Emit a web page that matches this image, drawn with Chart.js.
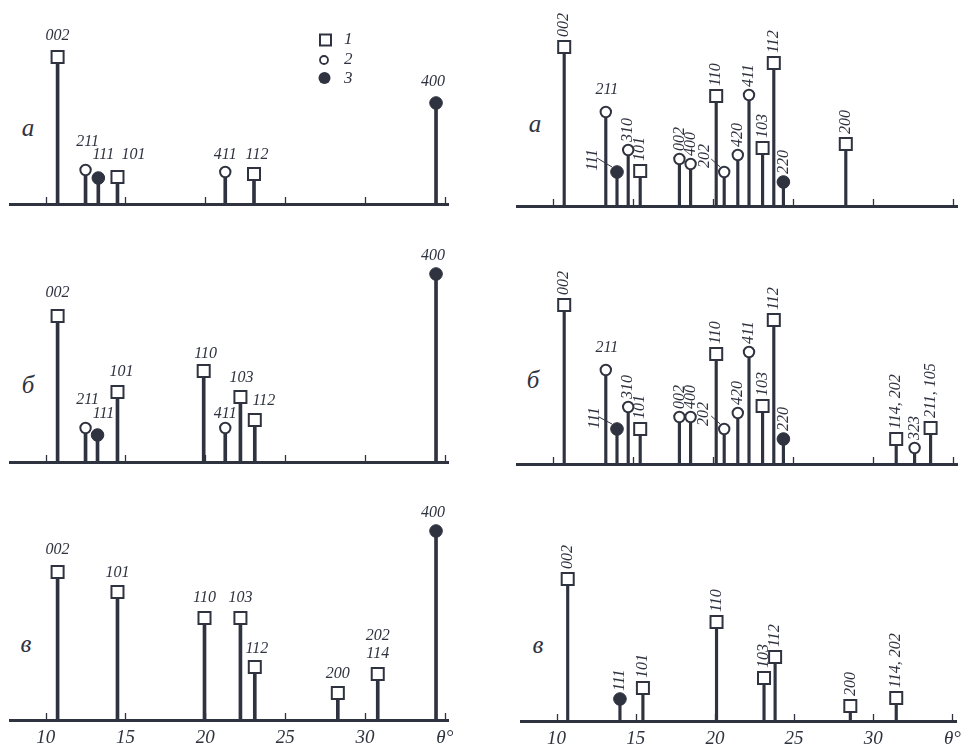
<!DOCTYPE html>
<html>
<head>
<meta charset="utf-8">
<script src="https://cdn.jsdelivr.net/npm/chart.js@4.4.1/dist/chart.umd.min.js"></script>
<style>
html, body { margin: 0; padding: 0; background: #fff; overflow: hidden }
#wrap { position: relative; width: 968px; height: 746px }
#wrap canvas { position: absolute }
.tag { position: absolute; font: italic 25px "Liberation Serif", serif; color: #2f3340; transform: translate(-50%, -50%) }
</style>
</head>
<body>
<div id="wrap">
  <div class="tag" style="left:28px;top:128px">а</div>
  <div class="tag" style="left:28px;top:385px">б</div>
  <div class="tag" style="left:26px;top:644px">в</div>
  <div class="tag" style="left:535px;top:124px">а</div>
  <div class="tag" style="left:533px;top:380px">б</div>
  <div class="tag" style="left:538px;top:645px">в</div>
</div>
<script>
const ink = '#2f3340'

// phase: 1 = square, 2 = open circle, 3 = filled circle
const leftATheta = [10.75, 12.5, 13.3, 14.5, 21.25, 23.05, 34.45]
const leftAInt   = [147, 34, 26, 27, 32, 30, 101]
const leftAPhase = [1, 2, 3, 1, 2, 1, 3]
const leftAHkl   = ['002', '211', '111', '101', '411', '112', '400']

const leftBTheta = [10.75, 12.5, 13.25, 14.5, 19.9, 21.25, 22.2, 23.1, 34.45]
const leftBInt   = [146, 34, 27, 70, 91, 34, 65, 42, 188]
const leftBPhase = [1, 2, 3, 1, 1, 2, 1, 1, 3]
const leftBHkl   = ['002', '211', '111', '101', '110', '411', '103', '112', '400']

const leftCTheta = [10.75, 14.5, 19.95, 22.2, 23.1, 28.3, 30.8, 34.45]
const leftCInt   = [148, 128, 102, 102, 53, 27, 46, 189]
const leftCPhase = [1, 1, 1, 1, 1, 1, 1, 3]
const leftCHkl   = ['002', '101', '110', '103', '112', '200', '202\n114', '400']

const rightATheta = [10.7, 13.3, 14.0, 14.7, 15.45, 17.9, 18.6, 20.2, 20.7, 21.55, 22.25, 23.1, 23.8, 24.4, 28.3]
const rightAInt   = [159, 94, 34, 56, 35, 47, 42, 110, 34, 51, 111, 58, 143, 24, 62]
const rightAPhase = [1, 2, 3, 2, 1, 2, 2, 1, 2, 2, 2, 1, 1, 3, 1]
const rightAHkl   = ['002', '211', '111', '310', '101', '002', '400', '110', '202', '420', '411', '103', '112', '220', '200']

const rightBTheta = [10.7, 13.3, 14.0, 14.7, 15.45, 17.9, 18.6, 20.2, 20.7, 21.55, 22.25, 23.1, 23.8, 24.4, 31.45, 32.6, 33.6]
const rightBInt   = [159, 94, 35, 57, 35, 47, 47, 110, 35, 51, 112, 58, 144, 25, 25, 16, 36]
const rightBPhase = [1, 2, 3, 2, 1, 2, 2, 1, 2, 2, 2, 1, 1, 3, 1, 2, 1]
const rightBHkl   = ['002', '211', '111', '310', '101', '002', '400', '110', '202', '420', '411', '103', '112', '220', '114, 202', '323', '211, 105']

const rightCTheta = [10.7, 14.0, 15.45, 20.1, 23.1, 23.8, 28.55, 31.45]
const rightCInt   = [142, 22, 33, 99, 43, 64, 15, 23]
const rightCPhase = [1, 3, 1, 1, 1, 1, 1, 1]
const rightCHkl   = ['002', '111', '101', '110', '103', '112', '200', '114, 202']

const tickValues = [10, 15, 20, 25, 30, 35]

// label nudges (layout only)
const nudgeLA = { 1: {dx: 2, dy: -28}, 2: {dx: 5, dy: -23}, 3: {dx: 16, dy: -22}, 4: {dy: -17}, 5: {dx: 3, dy: -19}, 6: {dx: -3} }
const nudgeLB = { 0: {dy: -23}, 1: {dx: 2, dy: -28}, 2: {dx: 6}, 3: {dx: 4, dy: -20}, 4: {dx: 2, dy: -17}, 5: {dy: -14}, 6: {dx: 1, dy: -19}, 7: {dx: 9, dy: -19}, 8: {dx: -3, dy: -18} }
const nudgeLC = { 0: {dy: -22}, 1: {dy: -19}, 2: {dy: -20}, 3: {dy: -20}, 4: {dx: 2, dy: -18}, 5: {dy: -19}, 6: {dy: -20}, 7: {dx: -3, dy: -18} }
const nudgeRA = { 1: {flat: true, dx: 1, dy: -22}, 2: {dx: -24, dy: -12, leader: [-20, -14, -5, -5]}, 8: {dx: -19, dy: -16, leader: [-13, -13, -4, -5]} }
const nudgeRB = { 1: {flat: true, dx: 1, dy: -22}, 2: {dx: -22, dy: -11, leader: [-18, -12, -5, -5]}, 8: {dx: -20, dy: -15, leader: [-13, -13, -4, -5]} }

const panels = [
  { theta: leftATheta, inten: leftAInt, phase: leftAPhase, hkl: leftAHkl, nudge: nudgeLA, flat: true, left: 0, axisY: 204, padL: 10, padR: 36, min: 7.8, max: 35.2, labels: false, legend: true },
  { theta: leftBTheta, inten: leftBInt, phase: leftBPhase, hkl: leftBHkl, nudge: nudgeLB, flat: true, left: 0, axisY: 462, padL: 10, padR: 36, min: 7.8, max: 35.2, labels: false },
  { theta: leftCTheta, inten: leftCInt, phase: leftCPhase, hkl: leftCHkl, nudge: nudgeLC, flat: true, left: 0, axisY: 720, padL: 10, padR: 36, min: 7.8, max: 35.2, labels: true },
  { theta: rightATheta, inten: rightAInt, phase: rightAPhase, hkl: rightAHkl, nudge: nudgeRA, flat: false, left: 484, axisY: 206, padL: 33, padR: 11, min: 7.75, max: 35.25, labels: false },
  { theta: rightBTheta, inten: rightBInt, phase: rightBPhase, hkl: rightBHkl, nudge: nudgeRB, flat: false, left: 484, axisY: 464, padL: 33, padR: 11, min: 7.75, max: 35.25, labels: false },
  { theta: rightCTheta, inten: rightCInt, phase: rightCPhase, hkl: rightCHkl, nudge: {}, flat: false, left: 484, axisY: 721, padL: 37, padR: 7, min: 7.75, max: 35.25, labels: true }
]

const markerStyle = {
  1: { pointStyle: 'rect', pointRadius: 8.5, backgroundColor: '#fff', borderColor: ink, borderWidth: 2 },
  2: { pointStyle: 'circle', pointRadius: 5.2, backgroundColor: '#fff', borderColor: ink, borderWidth: 2 },
  3: { pointStyle: 'circle', pointRadius: 6.3, backgroundColor: ink, borderColor: ink, borderWidth: 1 }
}

const axisTicks = {
  id: 'axisTicks',
  beforeDatasetsDraw(chart) {
    const { ctx, chartArea, scales: { x } } = chart
    ctx.save()
    ctx.strokeStyle = ink
    ctx.lineWidth = 1.3
    x.ticks.forEach(t => {
      const px = Math.round(x.getPixelForValue(t.value)) + 0.5
      ctx.beginPath()
      ctx.moveTo(px, chartArea.bottom)
      ctx.lineTo(px, chartArea.bottom - 7)
      ctx.stroke()
    })
    ctx.restore()
  }
}

const peakLabels = {
  id: 'peakLabels',
  afterDatasetsDraw(chart, args, opts) {
    const p = opts.panel
    if (!p) return
    const { ctx, scales: { x, y } } = chart
    ctx.save()
    ctx.fillStyle = ink
    ctx.strokeStyle = ink
    ctx.font = 'italic 16px "Liberation Serif", serif'
    p.hkl.forEach((txt, i) => {
      const px = x.getPixelForValue(p.theta[i])
      const py = y.getPixelForValue(p.inten[i])
      const n = p.nudge[i] || {}
      if (p.flat || n.flat) {
        ctx.textAlign = 'center'
        ctx.textBaseline = 'middle'
        const lines = txt.split('\n')
        const dy = n.dy !== undefined ? n.dy : -21
        lines.forEach((l, k) => ctx.fillText(l, px + (n.dx || 0), py + dy - (lines.length - 1 - k) * 18))
        return
      }
      ctx.save()
      if (n.leader) {
        ctx.lineWidth = 1
        ctx.beginPath()
        ctx.moveTo(px + n.leader[0], py + n.leader[1])
        ctx.lineTo(px + n.leader[2], py + n.leader[3])
        ctx.stroke()
        ctx.translate(px + n.dx, py + n.dy)
        ctx.textAlign = 'center'
      } else {
        ctx.translate(px, py - (p.phase[i] === 1 ? 10 : 8))
        ctx.textAlign = 'left'
      }
      ctx.rotate(-Math.PI / 2)
      ctx.textBaseline = 'middle'
      ctx.fillText(txt, 0, 0)
      ctx.restore()
    })
    ctx.restore()
  }
}

const phaseLegend = {
  id: 'phaseLegend',
  afterDraw(chart, args, opts) {
    if (!opts.show) return
    const { ctx } = chart
    const top = opts.top
    ctx.save()
    ctx.strokeStyle = ink
    ctx.fillStyle = ink
    ctx.lineWidth = 2
    ctx.strokeRect(320, 40 - top - 5.5, 11, 11)
    ctx.lineWidth = 1.8
    ctx.beginPath(); ctx.arc(324, 60 - top, 4, 0, Math.PI * 2); ctx.stroke()
    ctx.beginPath(); ctx.arc(324.5, 78 - top, 6, 0, Math.PI * 2); ctx.fill()
    ctx.font = 'italic 17px "Liberation Serif", serif'
    ctx.textAlign = 'left'
    ctx.textBaseline = 'middle'
    ;['1', '2', '3'].forEach((t, k) => ctx.fillText(t, 344, [40, 60, 79][k] - top))
    ctx.restore()
  }
}

const wrap = document.getElementById('wrap')
panels.forEach(p => {
  const cv = document.createElement('canvas')
  const top = p.axisY - 240
  cv.width = 484
  cv.height = 270
  cv.style.left = p.left + 'px'
  cv.style.top = top + 'px'
  wrap.appendChild(cv)

  const stems = p.theta.map((t, i) => ({ x: t, y: p.inten[i] }))
  const markers = [1, 2, 3].map(ph => Object.assign({
    type: 'scatter',
    order: 1,
    data: p.theta.map((t, i) => ({ x: t, y: p.inten[i], ph: p.phase[i] })).filter(d => d.ph === ph)
  }, markerStyle[ph]))

  new Chart(cv, {
    type: 'bar',
    data: {
      datasets: [{ type: 'bar', order: 2, data: stems, backgroundColor: ink, borderWidth: 0, barThickness: p.flat ? 3 : 2.5 }].concat(markers)
    },
    options: {
      responsive: false,
      animation: false,
      events: [],
      layout: { padding: { top: 40, bottom: 0, left: p.padL, right: p.padR } },
      scales: {
        x: {
          type: 'linear',
          min: p.min,
          max: p.max,
          offset: false,
          afterFit(s) { s.height = 30 },
          grid: { display: true, drawOnChartArea: false, drawTicks: false, offset: false },
          border: { display: true, width: 3, color: ink },
          ticks: {
            display: p.labels,
            stepSize: 5,
            includeBounds: false,
            autoSkip: false,
            maxRotation: 0,
            padding: 7,
            color: ink,
            font: { family: 'Liberation Serif', style: 'italic', size: 19 },
            callback: v => (tickValues.includes(v) ? (v === 35 ? 'θ°' : String(v)) : '')
          }
        },
        y: { min: 0, max: 200, display: false }
      },
      plugins: {
        legend: { display: false },
        tooltip: { enabled: false },
        peakLabels: { panel: p },
        phaseLegend: { show: !!p.legend, top: top }
      }
    },
    plugins: [axisTicks, peakLabels, phaseLegend]
  })
})
</script>
</body>
</html>
